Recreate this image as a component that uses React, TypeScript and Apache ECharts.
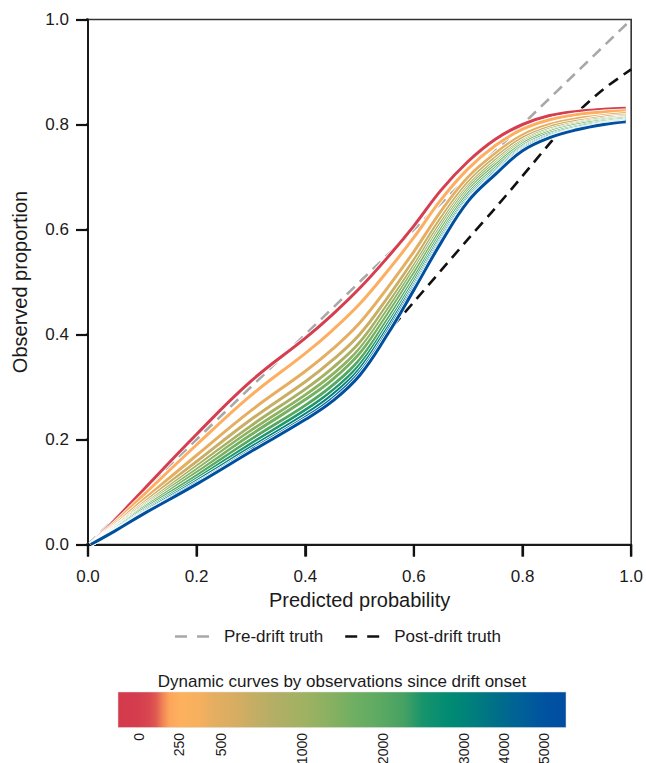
import React, { useEffect, useRef } from "react";
import * as echarts from "echarts";

// Predicted-probability grid on which the dynamic curves were read
const predicted = [0.005, 0.05, 0.1, 0.2, 0.3, 0.4, 0.45, 0.5, 0.55, 0.6, 0.65, 0.7, 0.75, 0.8, 0.85, 0.9, 0.95, 0.99];

// Observed proportions of each dynamic curve (observations since drift onset)
const obs0 = [0, 0.047, 0.102, 0.21, 0.311, 0.393, 0.438, 0.488, 0.545, 0.607, 0.675, 0.73, 0.772, 0.8, 0.817, 0.825, 0.829, 0.831];
const obs250 = [0, 0.042, 0.092, 0.19, 0.284, 0.364, 0.408, 0.458, 0.519, 0.585, 0.657, 0.716, 0.76, 0.791, 0.809, 0.819, 0.824, 0.826];
const obs500 = [0, 0.038, 0.083, 0.17, 0.255, 0.33, 0.372, 0.422, 0.487, 0.558, 0.635, 0.7, 0.745, 0.78, 0.8, 0.811, 0.817, 0.821];
const obs750 = [0, 0.035, 0.077, 0.158, 0.238, 0.31, 0.351, 0.4, 0.468, 0.542, 0.622, 0.69, 0.737, 0.774, 0.795, 0.806, 0.814, 0.817];
const obs1000 = [0, 0.034, 0.073, 0.149, 0.226, 0.296, 0.336, 0.385, 0.455, 0.531, 0.613, 0.683, 0.731, 0.769, 0.791, 0.803, 0.811, 0.815];
const obs1250 = [0, 0.032, 0.07, 0.143, 0.217, 0.285, 0.324, 0.373, 0.445, 0.523, 0.606, 0.678, 0.726, 0.766, 0.788, 0.801, 0.809, 0.813];
const obs1500 = [0, 0.031, 0.068, 0.137, 0.209, 0.276, 0.314, 0.364, 0.436, 0.516, 0.6, 0.673, 0.722, 0.763, 0.786, 0.799, 0.807, 0.812];
const obs2000 = [0, 0.03, 0.065, 0.131, 0.2, 0.265, 0.303, 0.352, 0.426, 0.507, 0.593, 0.668, 0.717, 0.759, 0.783, 0.796, 0.805, 0.81];
const obs2500 = [0, 0.028, 0.062, 0.125, 0.192, 0.256, 0.293, 0.342, 0.417, 0.5, 0.587, 0.663, 0.713, 0.756, 0.78, 0.794, 0.803, 0.808];
const obs3000 = [0, 0.027, 0.06, 0.121, 0.185, 0.248, 0.285, 0.334, 0.41, 0.494, 0.582, 0.659, 0.71, 0.754, 0.778, 0.792, 0.802, 0.807];
const obs4000 = [0, 0.027, 0.058, 0.117, 0.18, 0.242, 0.278, 0.327, 0.403, 0.489, 0.578, 0.656, 0.707, 0.752, 0.776, 0.791, 0.801, 0.806];
const obs5000 = [0, 0.026, 0.057, 0.115, 0.177, 0.238, 0.273, 0.322, 0.398, 0.485, 0.575, 0.654, 0.705, 0.75, 0.775, 0.79, 0.8, 0.805];

const curveObservations = [0, 250, 500, 750, 1000, 1250, 1500, 2000, 2500, 3000, 4000, 5000];
const curveValues = [obs0, obs250, obs500, obs750, obs1000, obs1250, obs1500, obs2000, obs2500, obs3000, obs4000, obs5000];
const curveColors = [
  "#d53e4f", "#fdae61", "#e6ae61", "#c9ae63", "#a8b163", "#8db262",
  "#76b061", "#55a862", "#1f966c", "#00827a", "#00669a", "#0050a0",
];

// Reference truths
const preDriftX = [0, 1];
const preDriftY = [0, 1];
const postDriftX = [0, 0.1, 0.2, 0.3, 0.4, 0.45, 0.5, 0.55, 0.6, 0.65, 0.7, 0.75, 0.8, 0.85, 0.9, 0.95, 1.0];
const postDriftY = [0, 0.058, 0.12, 0.188, 0.256, 0.295, 0.337, 0.402, 0.462, 0.522, 0.582, 0.641, 0.702, 0.764, 0.822, 0.868, 0.905];

// Axis ticks
const axisTicks = [0, 0.2, 0.4, 0.6, 0.8, 1.0];

// Colour bar
const colorbarTitle = "Dynamic curves by observations since drift onset";
const colorbarTickLabels = ["0", "250", "500", "1000", "2000", "3000", "4000", "5000"];
const colorbarTickPos = [0.047, 0.136, 0.23, 0.411, 0.592, 0.772, 0.862, 0.951];
const colorbarStopPos = [0, 0.045, 0.07, 0.085, 0.1, 0.115, 0.14, 0.18, 0.21, 0.26, 0.3, 0.35, 0.42, 0.48, 0.53, 0.58, 0.64, 0.68, 0.74, 0.79, 0.85, 0.9, 0.95, 1];
const colorbarStopColors = [
  "#d43a4c", "#d43d4e", "#d9484f", "#e05a50", "#f08456", "#fca55c", "#fdb15e", "#f7b05e",
  "#e6ae61", "#d8ad62", "#c6ad64", "#b3ae66", "#9eb262", "#86b061", "#6daf62", "#5eaa62",
  "#45a163", "#17946c", "#008b73", "#007f7c", "#006d8a", "#006097", "#0053a0", "#004ea2",
];

const FONT = "'Liberation Sans', Arial, Helvetica, sans-serif";
const TXT = "#1a1a1a";
const DASH_ICON = "path://M0,0H12V2.6H0Z M22,0H34V2.6H22Z";

export default function App() {
  const ref = useRef<HTMLDivElement>(null);

  useEffect(() => {
    if (!ref.current) return;
    const chart = echarts.init(ref.current, undefined, { renderer: "svg" });

    const gridLeft = 88;
    const gridTop = 19.5;
    const gridW = 544.5;
    const gridH = 525;
    const tickLen = 12;
    // tick length expressed in data units of each axis
    const tickLenX = tickLen / gridW;
    const tickLenY = tickLen / gridH;

    const series: any[] = [
      {
        name: "Pre-drift truth",
        type: "line",
        data: preDriftX.map((x, i) => [x, preDriftY[i]]),
        symbol: "none",
        lineStyle: { color: "#a8a8a8", width: 2.6, type: [11, 7] },
        itemStyle: { color: "#a8a8a8" },
        z: 2,
      },
      {
        name: "Post-drift truth",
        type: "line",
        data: postDriftX.map((x, i) => [x, postDriftY[i]]),
        symbol: "none",
        smooth: 0.3,
        lineStyle: { color: "#111111", width: 2.6, type: [11, 7] },
        itemStyle: { color: "#111111" },
        z: 2,
      },
    ];

    curveValues.forEach((vals, k) => {
      const data = predicted.map((x, i) => [x, vals[i]]);
      series.push({
        name: "halo " + curveObservations[k],
        type: "line",
        data,
        symbol: "none",
        smooth: 0.4,
        lineStyle: { color: "#ffffff", width: 4.6 },
        z: 3,
        silent: true,
      });
      series.push({
        name: "n=" + curveObservations[k],
        type: "line",
        data,
        symbol: "none",
        smooth: 0.4,
        lineStyle: { color: curveColors[k], width: 3 },
        itemStyle: { color: curveColors[k] },
        z: 3,
        silent: true,
      });
    });

    // Tick marks drawn as unclipped line segments through the axes' own scales
    axisTicks.forEach((v) => {
      series.push({
        name: "xtick " + v,
        type: "line",
        data: [[v, 0], [v, -tickLenY]],
        symbol: "none",
        clip: false,
        silent: true,
        lineStyle: { color: "#111111", width: 2.2, cap: "butt" },
        z: 20,
      });
      series.push({
        name: "ytick " + v,
        type: "line",
        data: [[0, v], [-tickLenX, v]],
        symbol: "none",
        clip: false,
        silent: true,
        lineStyle: { color: "#111111", width: 2.2, cap: "butt" },
        z: 20,
      });
    });

    const axisCommon = {
      type: "value",
      min: axisTicks[0],
      max: axisTicks[axisTicks.length - 1],
      interval: 0.2,
      nameLocation: "middle",
      nameTextStyle: { fontSize: 20, color: TXT, fontFamily: FONT },
      axisLine: { show: true, lineStyle: { color: TXT, width: 2 } },
      axisTick: { show: true, length: 12, lineStyle: { color: "#111111", width: 2.2 } },
      splitLine: { show: false },
    };

    const cbX = 118;
    const cbY = 692;
    const cbW = 448;
    const cbH = 35.5;

    const graphics: any[] = [
      {
        type: "rect",
        shape: { x: cbX, y: cbY, width: cbW, height: cbH },
        style: {
          fill: new echarts.graphic.LinearGradient(
            0, 0, 1, 0,
            colorbarStopPos.map((p, i) => ({ offset: p, color: colorbarStopColors[i] }))
          ),
          stroke: "#dcdcdc",
          lineWidth: 0.5,
        },
      },
      {
        type: "text",
        x: cbX + cbW / 2,
        y: 681,
        style: {
          text: colorbarTitle,
          fontSize: 17,
          fontFamily: FONT,
          fill: TXT,
          align: "center",
          verticalAlign: "middle",
        },
      },
      ...colorbarTickLabels.map((lab, i) => ({
        type: "text",
        x: cbX + colorbarTickPos[i] * cbW,
        y: 733,
        rotation: Math.PI / 2,
        style: {
          text: lab,
          fontSize: 14,
          fontFamily: FONT,
          fill: TXT,
          align: "right",
          verticalAlign: "middle",
        },
      })),
    ];

    chart.setOption({
      animation: false,
      backgroundColor: "#ffffff",
      textStyle: { fontFamily: FONT },
      grid: {
        left: gridLeft,
        top: gridTop,
        width: gridW,
        height: gridH,
        show: true,
        borderColor: "#333333",
        borderWidth: 1.6,
        backgroundColor: "transparent",
      },
      xAxis: {
        ...axisCommon,
        name: "Predicted probability",
        nameGap: 45,
        axisLabel: {
          fontSize: 17,
          color: TXT,
          margin: 23,
          fontFamily: FONT,
          formatter: (v: number) => v.toFixed(1),
        },
      },
      yAxis: {
        ...axisCommon,
        name: "Observed proportion",
        nameGap: 58,
        axisLabel: {
          fontSize: 17,
          color: TXT,
          margin: 19,
          fontFamily: FONT,
          formatter: (v: number) => v.toFixed(1),
        },
      },
      legend: {
        data: [
          { name: "Pre-drift truth", icon: DASH_ICON },
          { name: "Post-drift truth", icon: DASH_ICON },
        ],
        left: 170,
        top: 623,
        itemWidth: 34,
        itemHeight: 14,
        itemGap: 22,
        itemStyle: { borderWidth: 0 },
        textStyle: { fontSize: 17, color: TXT, fontFamily: FONT, padding: [0, 0, 0, 10] },
        selectedMode: false,
      },
      series,
      graphic: graphics,
    });

    return () => chart.dispose();
  }, []);

  return (
    <div
      ref={ref}
      style={{ position: "absolute", left: 0, top: 0, width: 646, height: 763 }}
    />
  );
}
